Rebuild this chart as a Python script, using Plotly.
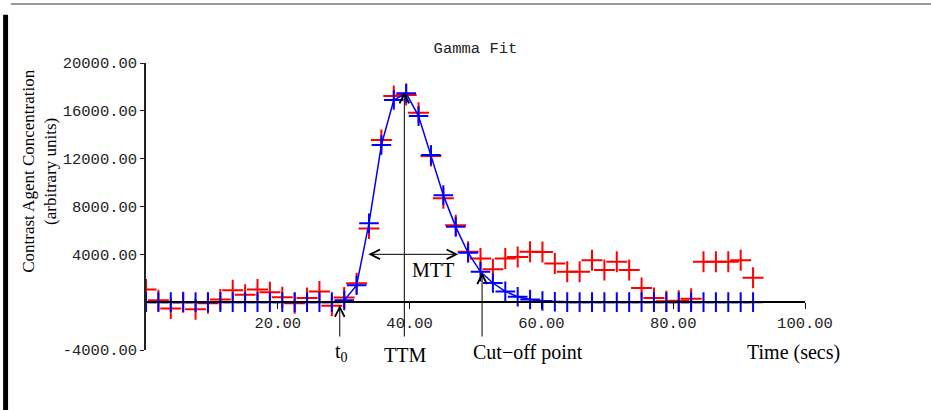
import plotly.graph_objects as go

# ---- data ----
time_s = [0.00, 1.88, 3.76, 5.64, 7.52, 9.40, 11.28, 13.16, 15.04, 16.92,
          18.80, 20.68, 22.56, 24.44, 26.32, 28.20, 30.08, 31.96, 33.84, 35.72,
          37.60, 39.48, 41.36, 43.24, 45.12, 47.00, 48.88, 50.76, 52.64, 54.52,
          56.40, 58.28, 60.16, 62.04, 63.92, 65.80, 67.68, 69.56, 71.44, 73.32,
          75.20, 77.08, 78.96, 80.84, 82.72, 84.60, 86.48, 88.36, 90.24, 92.12]

measured = [1060, 150, -530, 0, -600, -100, 225, 1000, 620, 1060,
            820, 420, -100, 350, 900, -300, 400, 1580, 6170, 13560,
            17250, 17320, 15840, 12220, 8680, 6440, 4210, 3650, 2750, 3650,
            3780, 4210, 4200, 3240, 2540, 2540, 3510, 2680, 3370, 2680,
            1180, 350, 80, 120, 280, 3370, 3370, 3370, 3510, 2050]

gamma_fit = [0, 0, 0, 0, 0, 0, 0, 0, 0, 0,
             0, 0, 0, 0, 0, 0, 150, 1420, 6600, 13140,
             16900, 17460, 15560, 12300, 8950, 6300, 4130, 2540, 1600, 900,
             450, 220, 100, 40, 0, 0, 0, 0, 0, 0,
             0, 0, 0, 0, 0, 0, 0, 0, 0, 0]

x_tick_vals = [20, 40, 60, 80, 100]
x_tick_text = ["20.00", "40.00", "60.00", "80.00", "100.00"]
y_tick_vals = [-4000, 4000, 8000, 12000, 16000, 20000]
y_tick_text = ["-4000.00", "4000.00", "8000.00", "12000.00", "16000.00", "20000.00"]

MONO = "Liberation Mono, DejaVu Sans Mono, monospace"
SERIF = "Liberation Serif, Times New Roman, serif"

fig = go.Figure()

fig.add_trace(go.Scatter(
    x=time_s, y=measured, mode="markers",
    marker=dict(symbol="cross-thin", size=15, line=dict(color="#ff0000", width=2)),
    showlegend=False,
))
fig.add_trace(go.Scatter(
    x=time_s, y=gamma_fit, mode="lines+markers",
    line=dict(color="#0000ff", width=1.5),
    marker=dict(symbol="cross-thin", size=14, line=dict(color="#0000ff", width=2)),
    showlegend=False,
))

# annotation arrows
arrow_common = dict(xref="x", yref="y", axref="x", ayref="y", text="",
                    showarrow=True, arrowhead=5, arrowsize=1.9, arrowwidth=1,
                    arrowcolor="black", standoff=0)
fig.add_annotation(x=29.4, y=-250, ax=29.4, ay=-3000, **arrow_common)
fig.add_annotation(x=39.2, y=17600, ax=39.2, ay=-3000, **arrow_common)
fig.add_annotation(x=51.0, y=2500, ax=51.0, ay=-3000, **arrow_common)
fig.add_annotation(x=47.4, y=4000, ax=33.5, ay=4000, arrowside="end+start", **arrow_common)

label_font = dict(family=SERIF, size=20, color="black")
for txt, xx, yy in [("MTT", 0.436, 0.279), ("t<sub>0</sub>", 0.297, -0.008),
                    ("TTM", 0.393, -0.017), ("Cut\u2212off point", 0.580, -0.010),
                    ("Time (secs)", 0.982, -0.010)]:
    fig.add_annotation(x=xx, y=yy, xref="paper", yref="paper", text=txt, showarrow=False,
                       font=label_font, xanchor="center", yanchor="middle")

# y axis title (two lines, rotated)
fig.add_annotation(x=-0.161, y=0.624, xref="paper", yref="paper",
                   text="Contrast Agent Concentration<br>(arbitrary units)",
                   textangle=-90, showarrow=False,
                   font=dict(family=SERIF, size=17, color="black"),
                   xanchor="center", yanchor="middle")

# page frame decorations
fig.add_shape(type="rect", xref="paper", yref="paper",
              x0=-0.2168, x1=-0.2093, y0=-0.215, y1=1.168,
              fillcolor="black", line=dict(width=0))
fig.add_shape(type="line", xref="paper", yref="paper",
              x0=-0.205, x1=1.2, y0=1.206, y1=1.206,
              line=dict(color="#9a9a9a", width=2))

fig.update_layout(
    width=931, height=410,
    margin=dict(l=146, r=126, t=63, b=60),
    paper_bgcolor="white", plot_bgcolor="white",
    title=dict(text="Gamma Fit", x=0.5107, xanchor="center", y=0.883, yanchor="middle",
               font=dict(family=MONO, size=15.5, color="#222")),
    xaxis=dict(range=[0, 100], showgrid=False, zeroline=False,
               showline=True, linecolor="black", linewidth=1.5,
               anchor="free", position=1/6, layer="above traces",
               ticks="outside", ticklen=6, tickcolor="black", tickwidth=1,
               tickvals=x_tick_vals, ticktext=x_tick_text,
               tickfont=dict(family=MONO, size=15.5, color="#222")),
    yaxis=dict(range=[-4000, 20000], showgrid=False, zeroline=False,
               showline=True, linecolor="#222", linewidth=1.5, layer="above traces",
               ticks="outside", ticklen=4, tickcolor="#222", tickwidth=1,
               tickvals=y_tick_vals, ticktext=y_tick_text,
               tickfont=dict(family=MONO, size=15.5, color="#222")),
)

fig.write_html("out.html", config={"displayModeBar": False},
               post_script="document.body.style.margin='0';document.body.style.overflow='hidden';")
